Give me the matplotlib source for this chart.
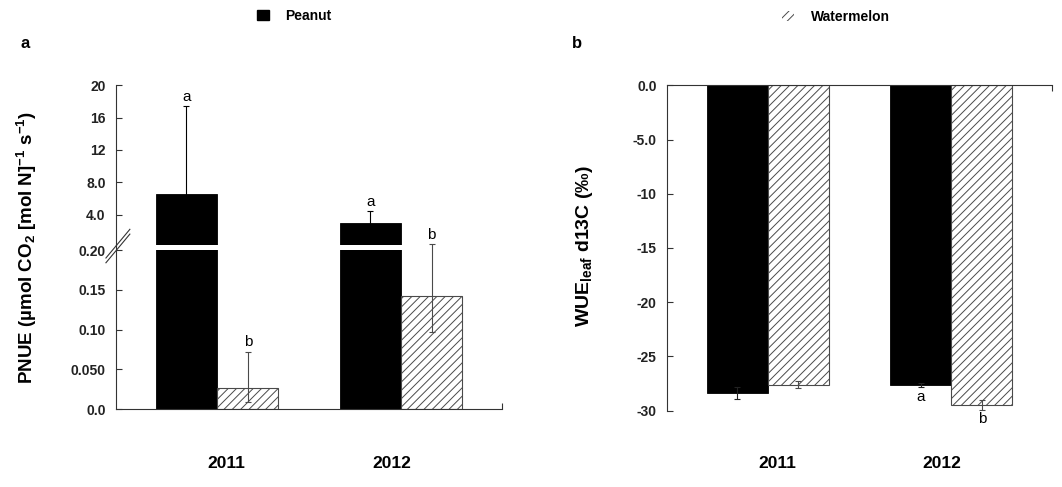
import numpy as np
import matplotlib.pyplot as plt
import matplotlib.transforms as mtransforms
from matplotlib.patches import Patch

plt.rcParams['font.family'] = ['Liberation Sans', 'DejaVu Sans']
plt.rcParams['mathtext.default'] = 'regular'
plt.rcParams['hatch.linewidth'] = 0.7

years = ['2011', '2012']
species = ['Peanut', 'Watermelon']

# PNUE, peanut on the upper (broken) scale, watermelon on the lower one
pnue_peanut = [6.5, 3.0]
pnue_peanut_err = [10.9, 1.4]
pnue_melon = [0.027, 0.142]
pnue_melon_err_lo = [0.018, 0.045]
pnue_melon_err_hi = [0.045, 0.065]
pnue_letters_peanut = ['a', 'a']
pnue_letters_melon = ['b', 'b']

# leaf d13C
wue_peanut = [-28.35, -27.65]
wue_peanut_err = [0.55, 0.2]
wue_melon = [-27.6, -29.45]
wue_melon_err = [0.35, 0.45]
wue_letters_peanut = ['', 'a']
wue_letters_melon = ['', 'b']

low_ticks = [0.0, 0.05, 0.10, 0.15, 0.20]
low_ticklabels = ['0.0', '0.050', '0.10', '0.15', '0.20']
high_ticks = [4, 8, 12, 16, 20]
high_ticklabels = ['4.0', '8.0', '12', '16', '20']
wue_ticks = [0, -5, -10, -15, -20, -25, -30]
wue_ticklabels = ['0.0', '-5.0', '-10', '-15', '-20', '-25', '-30']

x = np.arange(len(years))
w = 0.334
xlim = (-0.55, 1.55)
grey = '#4a4a4a'
axcol = '#333333'
hatch = '////'
tick_kw = dict(fontsize=10, fontweight='bold', color='#222222')
err_kw = dict(fmt='none', elinewidth=0.8, capsize=2, capthick=0.8)

fig = plt.figure(figsize=(10.62, 4.87), dpi=100)
ax_lo = fig.add_axes([0.1092, 0.1595, 0.3635, 0.3271])
ax_hi = fig.add_axes([0.1092, 0.4965, 0.3635, 0.3283])
ax_b = fig.add_axes([0.6281, 0.1567, 0.3625, 0.6682])

# ---- panel a: broken axis ----
for ax in (ax_lo, ax_hi):
    ax.patch.set_visible(False)
    ax.bar(x - w / 2, pnue_peanut, w, color='black', edgecolor='black', linewidth=0.6)
    ax.bar(x + w / 2, pnue_melon, w, color='white', edgecolor=grey, hatch=hatch, linewidth=0.8)
    ax.set_xlim(*xlim)
    for s in ('top', 'right'):
        ax.spines[s].set_visible(False)
    ax.spines['left'].set_color(axcol)
    ax.spines['bottom'].set_color(axcol)

ax_hi.errorbar(x - w / 2, pnue_peanut, yerr=pnue_peanut_err, ecolor='black', **err_kw)
eb = ax_lo.errorbar(x + w / 2, pnue_melon, yerr=[pnue_melon_err_lo, pnue_melon_err_hi],
                    ecolor=grey, **err_kw)
for art in list(eb.lines[1]) + list(eb.lines[2]):
    art.set_clip_on(False)

for xi, v, e, t in zip(x - w / 2, pnue_peanut, pnue_peanut_err, pnue_letters_peanut):
    ax_hi.annotate(t, (xi, v + e), xytext=(0, 2), textcoords='offset points',
                   ha='center', va='bottom', fontsize=11, annotation_clip=False)
for xi, v, e, t in zip(x + w / 2, pnue_melon, pnue_melon_err_hi, pnue_letters_melon):
    ax_lo.annotate(t, (xi, v + e), xytext=(0, 2), textcoords='offset points',
                   ha='center', va='bottom', fontsize=11, annotation_clip=False)

ax_lo.set_ylim(0, 0.2)
ax_hi.set_ylim(0.2, 20)
ax_lo.set_yticks(low_ticks, low_ticklabels, **tick_kw)
ax_hi.set_yticks(high_ticks, high_ticklabels, **tick_kw)
ax_hi.spines['bottom'].set_visible(False)
ax_hi.set_xticks([])
ax_lo.set_xticks([xlim[1]], [''])
ax_lo.spines['left'].set_bounds(0, 0.206)
for ax in (ax_lo, ax_hi):
    ax.tick_params(axis='y', direction='in', length=4, width=0.8, pad=7.5, color=axcol)
ax_lo.tick_params(axis='x', direction='in', length=4, width=0.8, color=axcol)

# break marks on the y axis
for dy in (0.0, 0.03):
    ax_lo.plot([-0.026, 0.036], [0.92 + dy, 1.10 + dy], transform=ax_lo.transAxes,
               color=axcol, lw=0.8, clip_on=False)

# ---- panel b ----
ax_b.bar(x - w / 2, wue_peanut, w, color='black', edgecolor='black', linewidth=0.6)
ax_b.bar(x + w / 2, wue_melon, w, color='white', edgecolor=grey, hatch=hatch, linewidth=0.8)
ax_b.errorbar(x - w / 2, wue_peanut, yerr=wue_peanut_err, ecolor='#222222', **err_kw)
ax_b.errorbar(x + w / 2, wue_melon, yerr=wue_melon_err, ecolor=grey, **err_kw)
for xi, v, e, t in zip(x - w / 2, wue_peanut, wue_peanut_err, wue_letters_peanut):
    ax_b.annotate(t, (xi, v - e), xytext=(0, -2), textcoords='offset points',
                  ha='center', va='top', fontsize=11, annotation_clip=False)
for xi, v, e, t in zip(x + w / 2, wue_melon, wue_melon_err, wue_letters_melon):
    ax_b.annotate(t, (xi, v - e), xytext=(0, -2), textcoords='offset points',
                  ha='center', va='top', fontsize=11, annotation_clip=False)

ax_b.set_xlim(*xlim)
ax_b.set_ylim(-30, 0)
ax_b.set_yticks(wue_ticks, wue_ticklabels, **tick_kw)
for s in ('bottom', 'right'):
    ax_b.spines[s].set_visible(False)
ax_b.spines['left'].set_color(axcol)
ax_b.spines['top'].set_color(axcol)
ax_b.xaxis.tick_top()
ax_b.set_xticks([xlim[1]], [''])
ax_b.tick_params(axis='y', direction='in', length=4, width=0.8, pad=7.5, color=axcol)
ax_b.tick_params(axis='x', direction='in', length=4, width=0.8, color=axcol)

# year labels under both panels
for ax in (ax_lo, ax_b):
    trans = mtransforms.blended_transform_factory(ax.transData, fig.transFigure)
    for xi, yr in zip(x + np.array([0.05, -0.05]), years):
        ax.text(xi, 0.049, yr, transform=trans, ha='center', va='center',
                fontsize=12.5, fontweight='bold')

fig.text(0.025, 0.491, 'PNUE (µmol CO$_2$ [mol N]$^{-1}$ s$^{-1}$)', rotation=90,
         ha='center', va='center', fontsize=13.5, fontweight='bold')
fig.text(0.55, 0.495, 'WUE$_{leaf}$ d13C (‰)', rotation=90,
         ha='center', va='center', fontsize=14, fontweight='bold')
fig.text(25 / 1062, 1 - 43 / 487, 'a', ha='center', va='center', fontsize=12, fontweight='bold')
fig.text(577 / 1062, 1 - 43 / 487, 'b', ha='center', va='center', fontsize=12, fontweight='bold')

leg_kw = dict(loc='center left', frameon=False, borderpad=0, borderaxespad=0,
              handlelength=0.86, handleheight=0.8, handletextpad=1.2,
              prop=dict(weight='bold', size=10))
fig.legend(handles=[Patch(facecolor='black', edgecolor='black', label=species[0])],
           bbox_to_anchor=(257 / 1062, 1 - 16 / 487), **leg_kw)
fig.legend(handles=[Patch(facecolor='white', edgecolor=grey, linewidth=0, hatch=hatch,
                          label=species[1])],
           bbox_to_anchor=(782 / 1062, 1 - 17 / 487), **leg_kw)

fig.savefig('out.png', dpi=100)
